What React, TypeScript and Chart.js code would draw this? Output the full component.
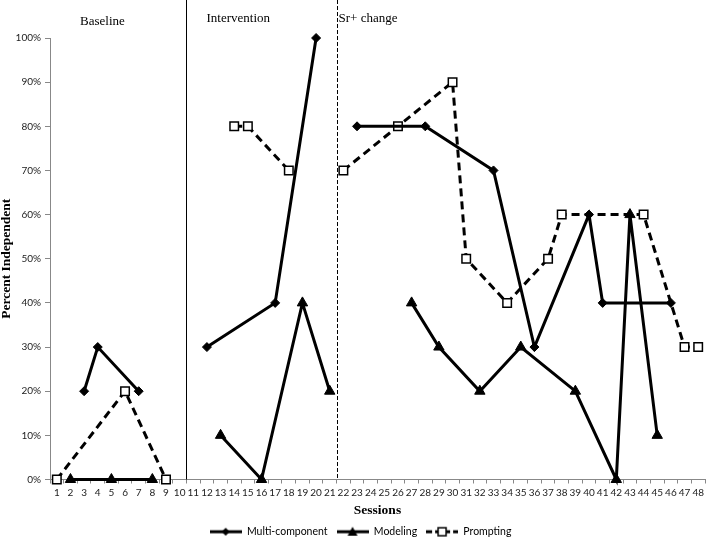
import { useEffect, useRef } from 'react'
import { Chart, registerables } from 'chart.js'

Chart.register(...registerables)

const sessions = [
  '1', '2', '3', '4', '5', '6', '7', '8', '9', '10', '11', '12', '13', '14', '15', '16',
  '17', '18', '19', '20', '21', '22', '23', '24', '25', '26', '27', '28', '29', '30', '31', '32',
  '33', '34', '35', '36', '37', '38', '39', '40', '41', '42', '43', '44', '45', '46', '47', '48',
]

// phases: names and the first session of each new phase
const phaseNames = ['Baseline', 'Intervention', 'Sr+ change']
const phaseStarts = [11, 22]

const multiSessions = [3, 4, 7, 12, 17, 20, 23, 28, 33, 36, 40, 41, 46]
const multiValues = [20, 30, 20, 30, 40, 100, 80, 80, 70, 30, 60, 40, 40]

const modelingSessions = [2, 5, 8, 13, 16, 19, 21, 27, 29, 32, 35, 39, 42, 43, 45]
const modelingValues = [0, 0, 0, 10, 0, 40, 20, 40, 30, 20, 30, 20, 0, 60, 10]

const promptingSessions = [1, 6, 9, 14, 15, 18, 22, 26, 30, 31, 34, 37, 38, 44, 47, 48]
const promptingValues = [0, 20, 0, 80, 80, 70, 70, 80, 90, 50, 40, 50, 60, 60, 30, 30]

const seriesNames = ['Multi-component', 'Modeling', 'Prompting']

const tickFont = { family: 'Lato', size: 10 }
const legendFont = { family: 'Lato', size: 10.5 }
const titleFont = { family: 'Liberation Serif', size: 13.5, weight: 'bold' as const, lineHeight: 1 }

const toPoints = (s: number[], v: number[]) => s.map((x, i) => ({ x: String(x), y: v[i] }))

const phaseOf = (session: number) => phaseStarts.filter(s => session >= s).length

// hide the connecting segment where a series crosses a phase line
const splitAtPhases = {
  borderColor: (ctx: any) =>
    phaseOf(ctx.p0.parsed.x + 1) !== phaseOf(ctx.p1.parsed.x + 1) ? 'rgba(0,0,0,0)' : undefined,
}

function legendIcon(kind: 'diamond' | 'triangle' | 'square') {
  const c = document.createElement('canvas')
  c.width = 32
  c.height = 12
  const ctx = c.getContext('2d')!
  ctx.strokeStyle = '#000'
  ctx.fillStyle = '#000'
  ctx.lineWidth = 3
  if (kind === 'square') ctx.setLineDash([6, 3])
  ctx.beginPath()
  ctx.moveTo(0, 6)
  ctx.lineTo(32, 6)
  ctx.stroke()
  ctx.setLineDash([])
  ctx.beginPath()
  if (kind === 'diamond') {
    ctx.moveTo(16, 2); ctx.lineTo(20, 6); ctx.lineTo(16, 10); ctx.lineTo(12, 6)
    ctx.closePath(); ctx.fill()
  } else if (kind === 'triangle') {
    ctx.moveTo(16, 1); ctx.lineTo(21, 10); ctx.lineTo(11, 10)
    ctx.closePath(); ctx.fill()
  } else {
    ctx.fillStyle = '#fff'
    ctx.lineWidth = 1.5
    ctx.rect(12, 2, 8, 8)
    ctx.fill(); ctx.stroke()
  }
  return c
}

const phasePlugin = {
  id: 'phases',
  beforeDatasetsDraw(chart: any) {
    const { ctx, chartArea, scales } = chart
    const x = scales.x
    ctx.save()
    ctx.strokeStyle = '#000'
    ctx.lineWidth = 1
    phaseStarts.forEach((start, i) => {
      const px = Math.round((x.getPixelForValue(start - 2) + x.getPixelForValue(start - 1)) / 2) + 0.5
      ctx.setLineDash(i === 0 ? [] : [4, 2])
      ctx.beginPath()
      ctx.moveTo(px, 0)
      ctx.lineTo(px, chartArea.bottom)
      ctx.stroke()
    })
    ctx.restore()
  },
  afterDraw(chart: any) {
    const { ctx, chartArea, scales } = chart
    const x = scales.x
    const bounds = phaseStarts.map(start => (x.getPixelForValue(start - 2) + x.getPixelForValue(start - 1)) / 2)
    ctx.save()
    ctx.font = '13px "Liberation Serif"'
    ctx.fillStyle = '#000'
    ctx.textBaseline = 'middle'
    ctx.textAlign = 'left'
    ctx.fillText(phaseNames[0], chartArea.left + 30, 21.5)
    ctx.fillText(phaseNames[1], bounds[0] + 20, 18.5)
    ctx.fillText(phaseNames[2], bounds[1] + 2, 18.5)
    ctx.restore()
  },
}

export default function App() {
  const canvasRef = useRef<HTMLCanvasElement>(null)

  useEffect(() => {
    if (!canvasRef.current) return
    const icons = [legendIcon('diamond'), legendIcon('triangle'), legendIcon('square')]

    const chart = new Chart(canvasRef.current, {
      type: 'line',
      data: {
        labels: sessions,
        datasets: [
          {
            label: seriesNames[0],
            data: toPoints(multiSessions, multiValues),
            borderColor: '#000',
            backgroundColor: '#000',
            borderWidth: 3,
            pointStyle: 'rectRot',
            pointRadius: 4.5,
            pointBorderWidth: 1,
            segment: splitAtPhases,
            clip: false,
          },
          {
            label: seriesNames[1],
            data: toPoints(modelingSessions, modelingValues),
            borderColor: '#000',
            backgroundColor: '#000',
            borderWidth: 3,
            pointStyle: 'triangle',
            pointRadius: 6,
            pointBorderWidth: 1,
            segment: splitAtPhases,
            clip: false,
          },
          {
            label: seriesNames[2],
            data: toPoints(promptingSessions, promptingValues),
            borderColor: '#000',
            backgroundColor: '#fff',
            borderWidth: 3,
            borderDash: [8, 5],
            pointStyle: 'rect',
            pointRadius: 6,
            pointBorderWidth: 1.5,
            pointBorderColor: '#000',
            pointBackgroundColor: '#fff',
            segment: splitAtPhases,
            clip: false,
          },
        ],
      },
      options: {
        animation: false,
        responsive: false,
        layout: { autoPadding: false, padding: { top: 38, right: 1, bottom: -10, left: 16 } },
        plugins: {
          tooltip: { enabled: false },
          legend: {
            position: 'bottom',
            labels: {
              usePointStyle: true,
              pointStyleWidth: 32,
              boxHeight: 11,
              padding: 9,
              color: '#000',
              font: legendFont,
              generateLabels: (c: any) =>
                c.data.datasets.map((ds: any, i: number) => ({
                  text: ds.label,
                  pointStyle: icons[i],
                  fillStyle: '#000',
                  strokeStyle: '#000',
                  lineWidth: 0,
                  hidden: false,
                  datasetIndex: i,
                  fontColor: '#000',
                })),
            },
          },
        },
        scales: {
          x: {
            type: 'category',
            offset: true,
            grid: { offset: true, drawOnChartArea: false, tickLength: 4, color: '#888' },
            border: { color: '#888' },
            ticks: { autoSkip: false, maxRotation: 0, font: tickFont, color: '#222', padding: 3 },
            title: { display: true, text: 'Sessions', font: titleFont, color: '#000', padding: 0 },
            afterFit: (s: any) => {
              s.height = 38
              s.paddingLeft = 0
              s.paddingRight = 0
            },
          },
          y: {
            min: 0,
            max: 100,
            grid: { drawOnChartArea: false, tickLength: 5, color: '#888' },
            border: { color: '#888' },
            ticks: { stepSize: 10, font: tickFont, color: '#222', padding: 4, callback: (v: any) => v + '%' },
            title: {
              display: true,
              text: 'Percent Independent',
              font: titleFont,
              color: '#000',
              padding: { top: -16, bottom: 0 },
            },
            afterFit: (s: any) => { s.width = 34 },
          },
        },
      },
      plugins: [phasePlugin],
    })

    return () => chart.destroy()
  }, [])

  return (
    <div style={{ position: 'absolute', left: 0, top: 0, width: 706, height: 537, background: '#fff' }}>
      <canvas ref={canvasRef} width={706} height={537} />
    </div>
  )
}
